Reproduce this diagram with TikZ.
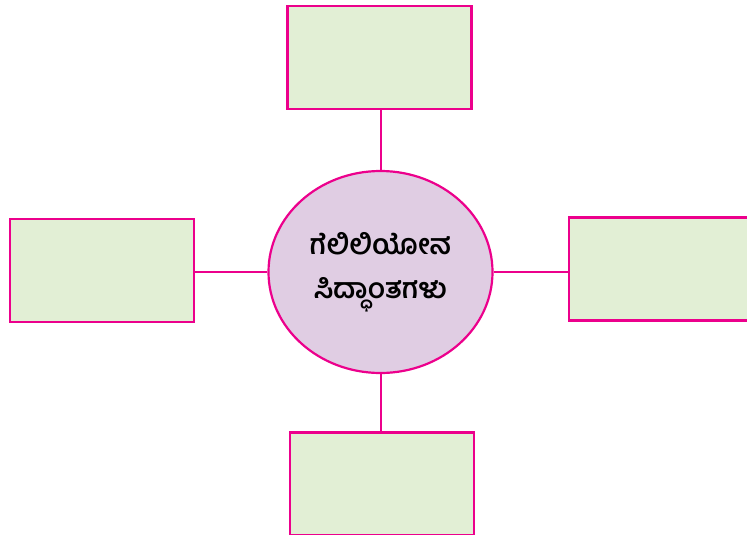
\documentclass[tikz,border=0pt]{standalone}
\usepackage{fontspec}
\newfontfamily\kanfont[Script=Kannada]{Hind Mysuru}
\usetikzlibrary{shapes.geometric}
\definecolor{pinkline}{HTML}{EC008C}
\definecolor{boxfill}{HTML}{E2EFD5}
\definecolor{ellfill}{HTML}{E0CDE3}
\tikzset{
  emptybox/.style={draw=pinkline, line width=2.8pt, fill=boxfill, minimum width=184pt, minimum height=103pt, inner sep=0pt},
  hub/.style={draw=pinkline, line width=2.2pt, fill=ellfill, ellipse, minimum width=224pt, minimum height=202pt, inner sep=0pt, align=center, font=\kanfont\bfseries\fontsize{28}{44}\selectfont},
  link/.style={draw=pinkline, line width=2pt}
}
\begin{document}
\begin{tikzpicture}[x=1pt,y=-1pt]
\useasboundingbox (0,0) rectangle (747,535);
\clip (0,0) rectangle (747,535);
\node[emptybox] (top) at (379.5,57.5) {};
\node[emptybox] (left) at (102,270.5) {};
\node[emptybox] (right) at (661,269) {};
\node[emptybox] (bottom) at (382,484) {};
\node[hub] (hub) at (380.5,272) {ಗೆಲಿಲಿಯೋನ\\ಸಿದ್ಧಾಂತಗಳು};
\draw[link] (hub.north) -- (top.south -| hub.north);
\draw[link] (hub.south) -- (bottom.north -| hub.south);
\draw[link] (hub.west) -- (left.east |- hub.west);
\draw[link] (hub.east) -- (right.west |- hub.east);
\end{tikzpicture}
\end{document}
